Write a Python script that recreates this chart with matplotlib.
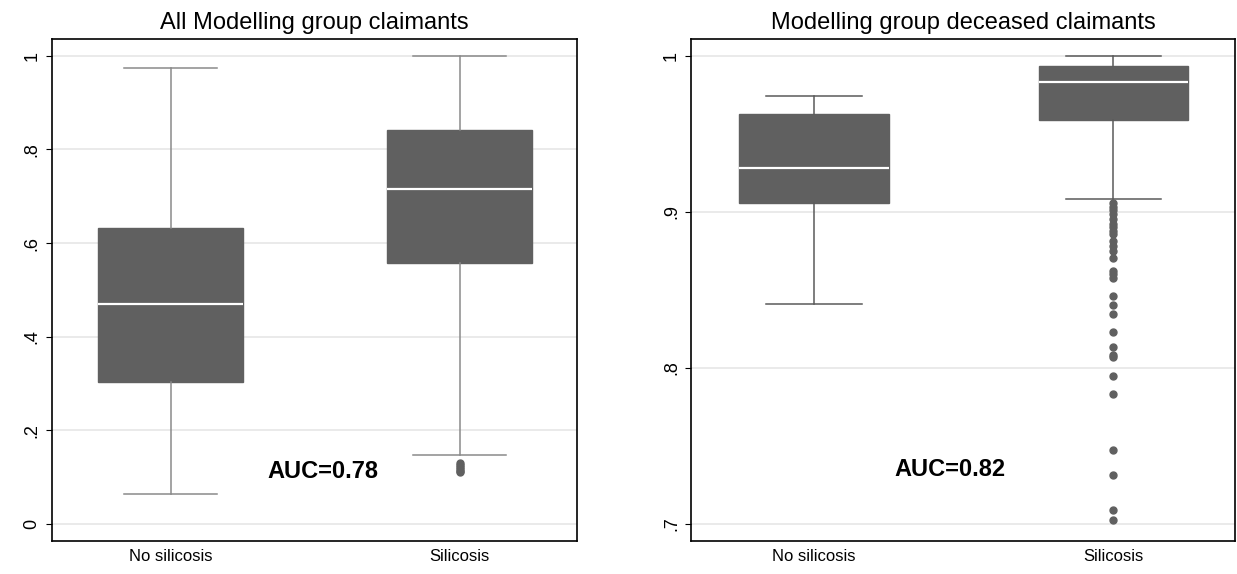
import matplotlib
matplotlib.use("Agg")
import matplotlib.pyplot as plt

plt.rcParams['font.family'] = ['Liberation Sans', 'DejaVu Sans']

groups = ["No silicosis", "Silicosis"]

# left panel: all modelling group claimants
all_q1 = [0.304, 0.557]
all_med = [0.470, 0.715]
all_q3 = [0.633, 0.841]
all_lo = [0.064, 0.147]
all_hi = [0.974, 1.0]
all_out = [[], [0.130, 0.126, 0.122, 0.118, 0.114, 0.110]]

# right panel: deceased claimants
dec_q1 = [0.9056, 0.959]
dec_med = [0.928, 0.983]
dec_q3 = [0.9628, 0.9935]
dec_lo = [0.8411, 0.9084]
dec_hi = [0.9745, 1.0]
dec_out = [[], [0.9056, 0.9033, 0.9009, 0.8986, 0.8955, 0.8922, 0.8903, 0.888,
                0.8857, 0.881, 0.8782, 0.8751, 0.8704, 0.8622, 0.8599, 0.8575,
                0.8458, 0.84, 0.8348, 0.8229, 0.8137, 0.8083, 0.8072, 0.7949,
                0.7835, 0.7473, 0.7316, 0.7087, 0.7028]]

auc_left = "AUC=0.78"
auc_right = "AUC=0.82"

box_col = "#606060"


def stats(q1, med, q3, lo, hi, out):
    res = []
    for i in range(len(groups)):
        res.append(dict(label=groups[i], q1=q1[i], med=med[i], q3=q3[i],
                        whislo=lo[i], whishi=hi[i], fliers=out[i]))
    return res


def draw(ax, st, whis_col, title, yticks, ylabels, ylim, auc, auc_pos):
    ax.bxp(st, positions=[1, 2], widths=0.5, patch_artist=True,
           showfliers=True,
           boxprops=dict(facecolor=box_col, edgecolor=box_col, linewidth=1),
           medianprops=dict(color="white", linewidth=1.6),
           whiskerprops=dict(color=whis_col, linewidth=1.1),
           capprops=dict(color=whis_col, linewidth=1.1),
           capwidths=0.32,
           flierprops=dict(marker="o", markerfacecolor=box_col,
                           markeredgecolor=box_col, markersize=5))
    ax.set_xlim(0.589, 2.406)
    ax.set_ylim(*ylim)
    ax.set_yticks(yticks)
    ax.set_yticklabels(ylabels, rotation=90, va="center", fontsize=13)
    ax.set_xticks([1, 2])
    ax.set_xticklabels(groups, fontsize=12)
    ax.tick_params(axis="x", length=0, pad=6)
    ax.tick_params(axis="y", length=4, width=0.8, pad=4)
    ax.yaxis.grid(True, color="#e6e6e6", linewidth=1.2)
    ax.set_axisbelow(True)
    for s in ax.spines.values():
        s.set_linewidth(1.2)
        s.set_color("black")
    ax.set_title(title, fontsize=17, pad=7)
    ax.text(auc_pos[0], auc_pos[1], auc, fontsize=17, fontweight="bold",
            ha="center", va="center")


fig = plt.figure(figsize=(12.37, 5.74), dpi=100)
ax1 = fig.add_axes([0.0418, 0.0575, 0.4247, 0.8745])
ax2 = fig.add_axes([0.5586, 0.0575, 0.4398, 0.8745])

draw(ax1, stats(all_q1, all_med, all_q3, all_lo, all_hi, all_out), "#8a8a8a",
     "All Modelling group claimants", [0, 0.2, 0.4, 0.6, 0.8, 1],
     ["0", ".2", ".4", ".6", ".8", "1"], (-0.0363, 1.0357),
     auc_left, (1.527, 0.113))

draw(ax2, stats(dec_q1, dec_med, dec_q3, dec_lo, dec_hi, dec_out), "#5a5a5a",
     "Modelling group deceased claimants", [0.7, 0.8, 0.9, 1],
     [".7", ".8", ".9", "1"], (0.6891, 1.0107),
     auc_right, (1.454, 0.7352))

fig.savefig("out.png", dpi=100)
